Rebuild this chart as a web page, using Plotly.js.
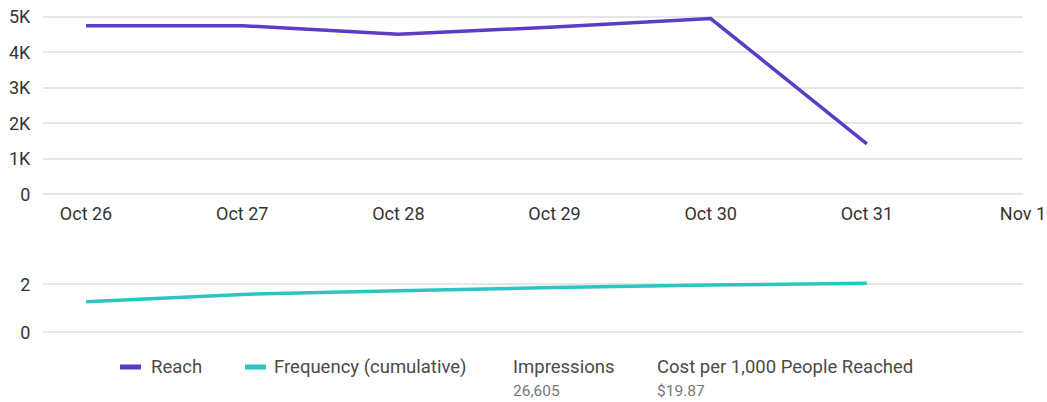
<!DOCTYPE html>
<html lang="en">
<head>
    <meta charset="UTF-8">
    <title>Reach and Frequency</title>
    <script src="https://cdn.plot.ly/plotly-3.0.1.min.js"></script>
    <style>
        html, body { margin: 0; padding: 0; background: #fff; }
        #chart { width: 1047px; height: 402px; }
    </style>
</head>
<body>
    <div id="chart"></div>
    <script>
        // Daten
        const dates = ['2023-10-26', '2023-10-27', '2023-10-28', '2023-10-29', '2023-10-30', '2023-10-31'];
        const reach = [4750, 4750, 4510, 4710, 4950, 1420];
        const frequency = [1.27, 1.58, 1.73, 1.87, 1.97, 2.04];

        const reachTickVals = [0, 1000, 2000, 3000, 4000, 5000];
        const reachTickText = ['0', '1K', '2K', '3K', '4K', '5K'];
        const freqTickVals = [0, 2];

        const summaryLabels = ['Impressions', 'Cost per 1,000 People Reached'];
        const summaryValues = ['26,605', '$19.87'];

        const W = 1047, H = 402;
        const px = v => v / W;
        const py = v => 1 - v / H;

        const purple = '#5b3cc4';
        const teal = '#2cc5c3';
        const grid = '#e6e6e6';
        const font = 'Roboto, "Open Sans", sans-serif';

        const data = [
            {
                type: 'scatter', mode: 'lines', name: 'Reach',
                x: dates, y: reach, xaxis: 'x', yaxis: 'y',
                line: { color: purple, width: 3.5 },
                hoverinfo: 'x+y'
            },
            {
                type: 'scatter', mode: 'lines', name: 'Frequency (cumulative)',
                x: dates, y: frequency, xaxis: 'x2', yaxis: 'y2',
                line: { color: teal, width: 3.5 },
                hoverinfo: 'x+y'
            }
        ];

        const xRange = ['2023-10-25 17:23', '2023-11-01 00:00'];
        const xDomain = [px(43), px(1023)];

        // Legende (eigene Zeichnung)
        const legendItems = [
            { label: 'Reach', color: purple, x0: 120, x1: 141, tx: 149 },
            { label: 'Frequency (cumulative)', color: teal, x0: 245, x1: 266, tx: 272 }
        ];
        const shapes = legendItems.map(it => ({
            type: 'line', xref: 'paper', yref: 'paper',
            x0: px(it.x0), x1: px(it.x1), y0: py(367), y1: py(367),
            line: { color: it.color, width: 5 }
        }));
        const annotations = legendItems.map(it => ({
            xref: 'paper', yref: 'paper', x: px(it.tx), y: py(367),
            xanchor: 'left', yanchor: 'middle', showarrow: false,
            text: it.label, font: { family: font, size: 18.5, color: '#4a4a4a' }
        }));
        const summaryX = [511, 655];
        summaryLabels.forEach((lab, i) => {
            annotations.push({
                xref: 'paper', yref: 'paper', x: px(summaryX[i]), y: py(367),
                xanchor: 'left', yanchor: 'middle', showarrow: false,
                text: lab, font: { family: font, size: 18.5, color: '#4a4a4a' }
            });
            annotations.push({
                xref: 'paper', yref: 'paper', x: px(summaryX[i]), y: py(391),
                xanchor: 'left', yanchor: 'middle', showarrow: false,
                text: summaryValues[i], font: { family: font, size: 15.5, color: '#777' }
            });
        });

        const layout = {
            width: W, height: H,
            margin: { l: 0, r: 0, t: 0, b: 0 },
            paper_bgcolor: '#fff', plot_bgcolor: '#fff',
            showlegend: false,
            font: { family: font, size: 18, color: '#333' },
            xaxis: {
                type: 'date', range: xRange, domain: xDomain, anchor: 'y',
                tickformat: '%b %-d', dtick: 86400000, tick0: '2023-10-26',
                showgrid: false, zeroline: false, showline: false,
                ticks: 'outside', ticklen: 3, tickcolor: 'rgba(0,0,0,0)',
                tickfont: { family: font, size: 18, color: '#333' },
                automargin: false, fixedrange: true
            },
            yaxis: {
                domain: [1 - 194.3 / H, 1 - 13.2 / H], range: [0, 5100], anchor: 'x',
                tickvals: reachTickVals, ticktext: reachTickText,
                showgrid: true, gridcolor: grid, gridwidth: 1.5,
                zeroline: true, zerolinecolor: grid, zerolinewidth: 1.5,
                ticks: 'outside', ticklen: 8, tickcolor: 'rgba(0,0,0,0)',
                tickfont: { family: font, size: 18, color: '#333' },
                automargin: false, fixedrange: true
            },
            xaxis2: {
                type: 'date', range: xRange, domain: xDomain, anchor: 'y2',
                showticklabels: false, showgrid: false, zeroline: false, showline: false,
                automargin: false, fixedrange: true
            },
            yaxis2: {
                domain: [1 - 332.3 / H, 1 - 272.3 / H], range: [0, 2.5], anchor: 'x2',
                tickvals: freqTickVals,
                showgrid: true, gridcolor: grid, gridwidth: 1.5,
                zeroline: true, zerolinecolor: grid, zerolinewidth: 1.5,
                ticks: 'outside', ticklen: 8, tickcolor: 'rgba(0,0,0,0)',
                tickfont: { family: font, size: 18, color: '#333' },
                automargin: false, fixedrange: true
            },
            shapes: shapes,
            annotations: annotations
        };

        Plotly.newPlot('chart', data, layout, { displayModeBar: false, responsive: false });
    </script>
</body>
</html>
